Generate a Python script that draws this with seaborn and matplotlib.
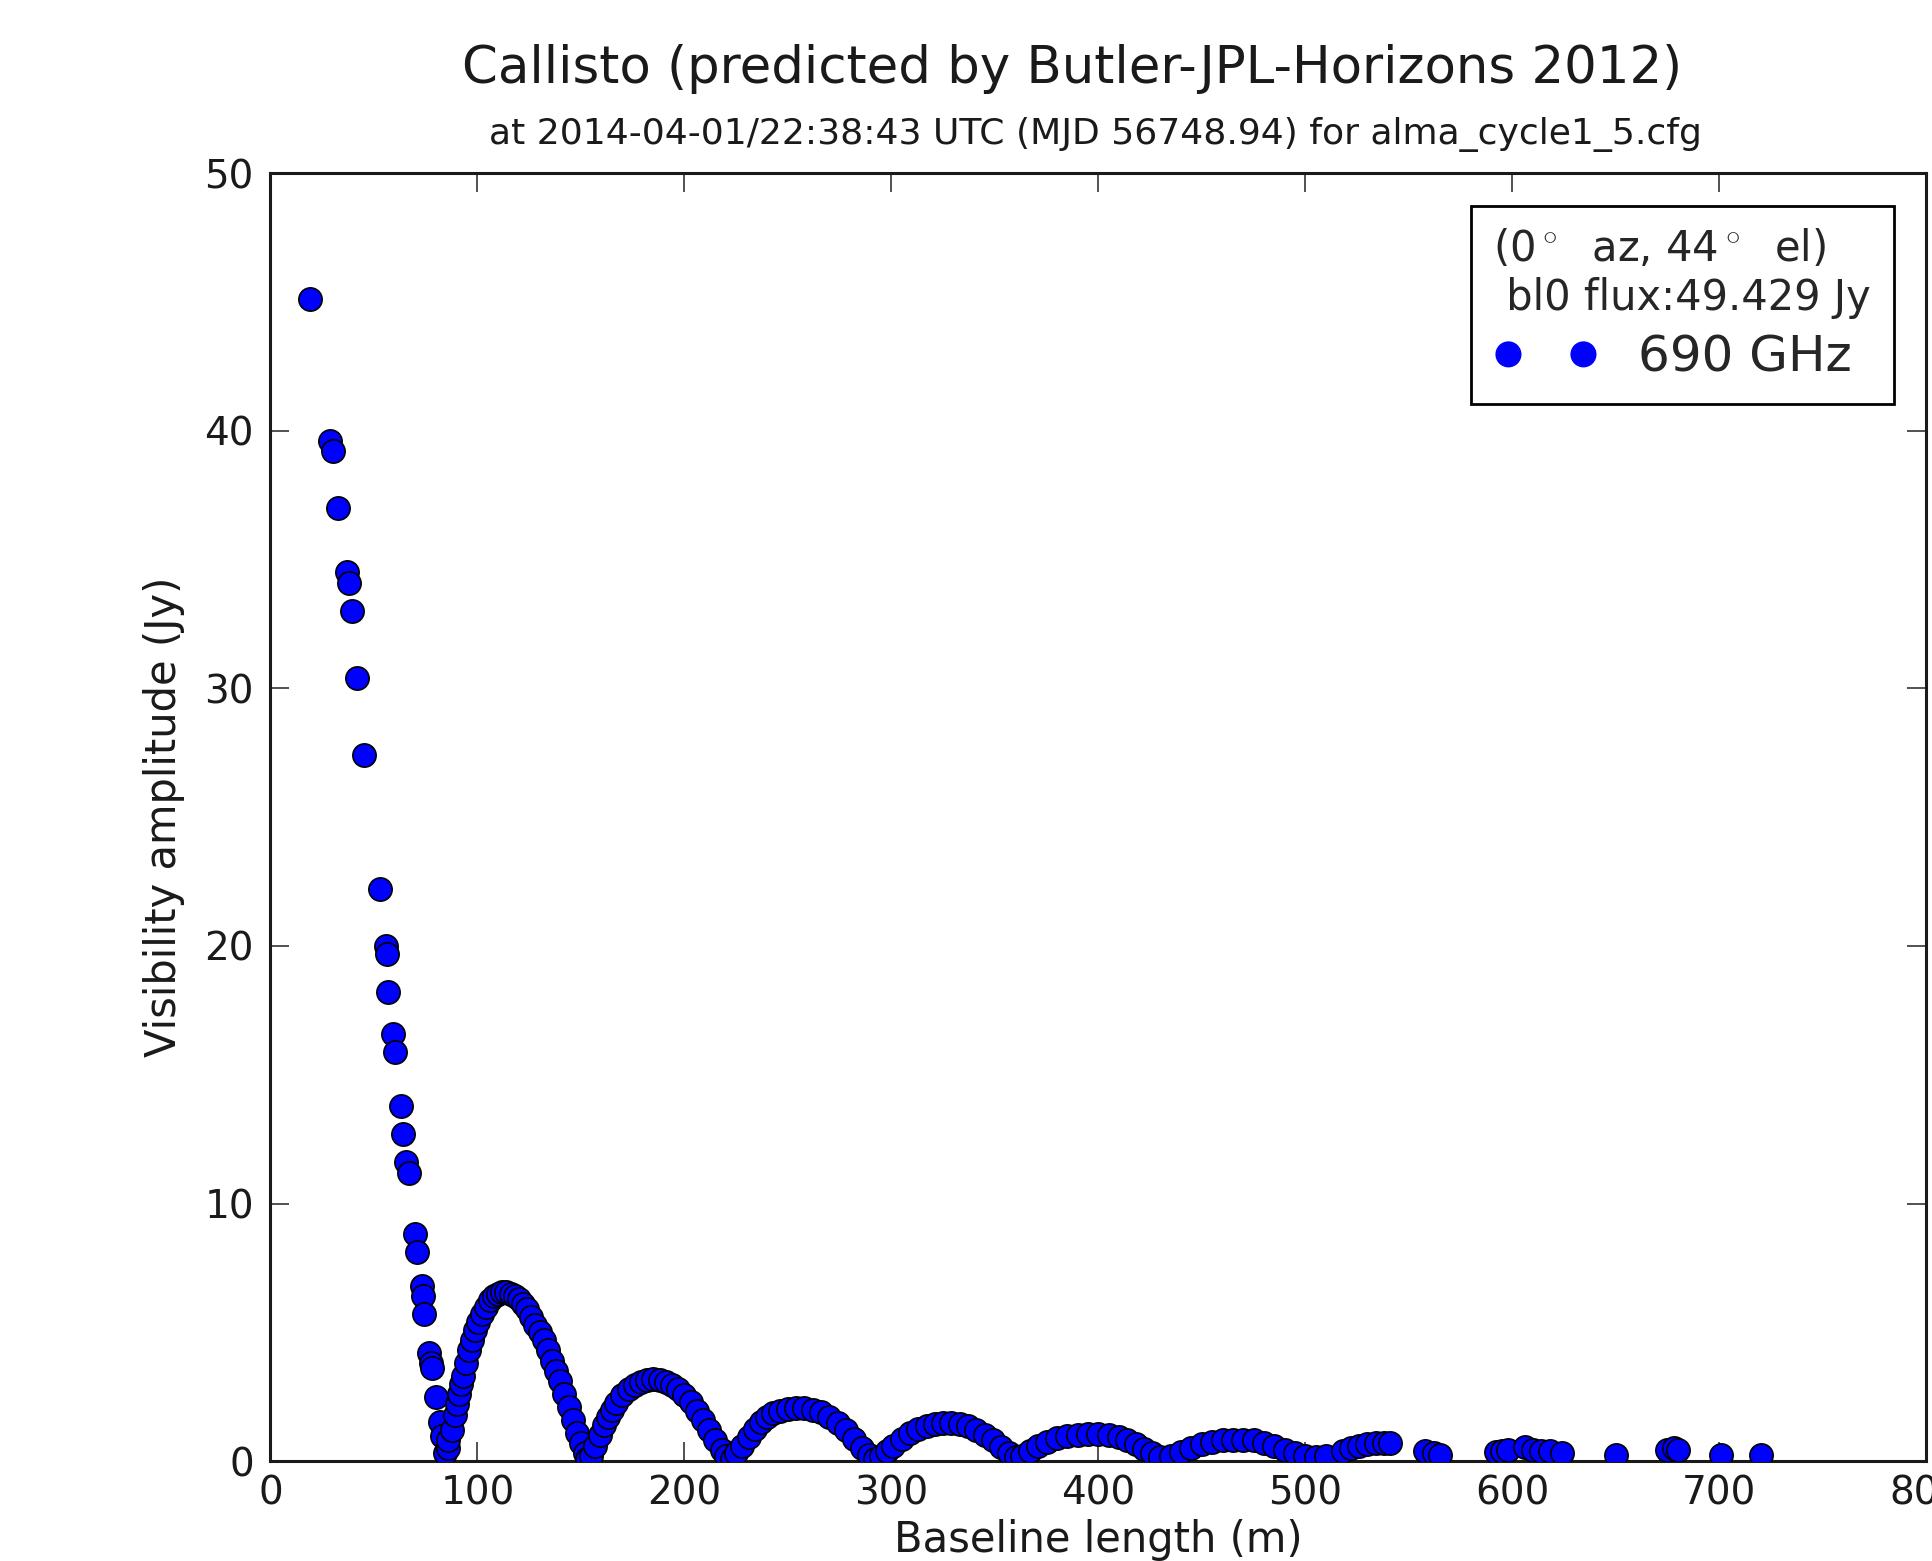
import matplotlib
matplotlib.use("Agg")
import matplotlib.pyplot as plt
import seaborn as sns
import pandas as pd

main_lobe_m = [19, 28.6, 30.4, 32.7, 36.9, 38.1, 39.3, 41.7, 45.2, 53, 56, 56.3, 57, 59, 60,
               63, 64, 65.5, 66.7, 69.6, 70.8, 73.2, 73.8, 74.4, 76.8, 77.4, 78, 79.8, 82,
               82.7, 84.5, 85.7]
main_lobe_jy = [45.1, 39.6, 39.2, 37.0, 34.5, 34.1, 33.0, 30.4, 27.4, 22.2, 20.0, 19.7, 18.2,
                16.6, 15.9, 13.8, 12.7, 11.6, 11.2, 8.8, 8.1, 6.8, 6.4, 5.7, 4.2, 3.8, 3.6,
                2.5, 1.5, 0.96, 0.3, 0.5]

lobe2_m = [86, 87.5, 89, 90, 91, 92, 93, 94.5, 96, 97.5, 99, 100.5, 102, 104, 106, 108, 110,
           112, 114, 116, 118, 120, 122, 124, 126, 128, 130, 132, 134, 136, 138, 140, 142,
           144, 146, 148, 150, 152, 153]
lobe2_jy = [0.8, 1.2, 1.8, 2.2, 2.6, 3.0, 3.3, 3.8, 4.3, 4.7, 5.1, 5.4, 5.7, 6.0, 6.25, 6.4,
            6.5, 6.55, 6.55, 6.5, 6.4, 6.3, 6.1, 5.9, 5.6, 5.3, 5.0, 4.7, 4.3, 3.9, 3.5, 3.1,
            2.6, 2.1, 1.6, 1.1, 0.7, 0.3, 0.1]

lobe3_m = [155, 157, 159, 161, 163, 165, 167, 170, 173, 176, 179, 182, 185, 188, 191, 194, 197,
           200, 203, 206, 209, 212, 215, 218, 220, 223]
lobe3_jy = [0.2, 0.6, 1.0, 1.4, 1.7, 2.0, 2.25, 2.55, 2.8, 2.95, 3.08, 3.15, 3.17, 3.15, 3.08,
            2.95, 2.78, 2.55, 2.28, 1.95, 1.6, 1.2, 0.8, 0.45, 0.2, 0.1]

lobe4_m = [225, 228, 231, 234, 237, 240, 243, 246, 250, 254, 258, 262, 266, 270, 274, 278, 282,
           286, 289, 292]
lobe4_jy = [0.3, 0.6, 0.95, 1.25, 1.5, 1.7, 1.85, 1.95, 2.03, 2.07, 2.06, 2.0, 1.9, 1.72, 1.48,
            1.2, 0.85, 0.5, 0.25, 0.1]

lobe5_m = [295, 298, 301, 305, 309, 313, 317, 321, 325, 329, 333, 337, 341, 345, 349, 353, 357, 360]
lobe5_jy = [0.2, 0.4, 0.6, 0.85, 1.1, 1.25, 1.37, 1.44, 1.48, 1.48, 1.44, 1.35, 1.22, 1.02, 0.8,
            0.55, 0.3, 0.15]

lobe6_m = [363, 367, 371, 375, 380, 385, 390, 395, 400, 405, 410, 414, 418, 422, 426, 430]
lobe6_jy = [0.2, 0.4, 0.6, 0.75, 0.88, 0.97, 1.02, 1.05, 1.05, 1.0, 0.92, 0.8, 0.65, 0.48, 0.3, 0.15]

outer_m = [435, 440, 445, 450, 455, 460, 465, 470, 475, 480, 485, 490, 495, 500, 505, 510, 518,
           522, 526, 530, 534, 538, 541, 558, 562, 565, 592, 595, 598, 606, 610, 614, 618, 624,
           650, 675, 678, 680, 701, 720]
outer_jy = [0.2, 0.35, 0.5, 0.65, 0.75, 0.8, 0.82, 0.82, 0.8, 0.7, 0.58, 0.45, 0.32, 0.2, 0.15,
            0.2, 0.4, 0.5, 0.6, 0.65, 0.7, 0.7, 0.7, 0.4, 0.3, 0.25, 0.35, 0.4, 0.45, 0.55, 0.45,
            0.4, 0.4, 0.3, 0.25, 0.45, 0.5, 0.45, 0.25, 0.25]

x_ticks = [0, 100, 200, 300, 400, 500, 600, 700, 800]
y_ticks = [0, 10, 20, 30, 40, 50]

title = "Callisto (predicted by Butler-JPL-Horizons 2012)"
subtitle = "at 2014-04-01/22:38:43 UTC (MJD 56748.94) for alma_cycle1_5.cfg"
legend_title = "(0$^\\circ$  az, 44$^\\circ$  el)\n bl0 flux:49.429 Jy"
series_label = "690 GHz"

df = pd.DataFrame({
    "baseline": main_lobe_m + lobe2_m + lobe3_m + lobe4_m + lobe5_m + lobe6_m + outer_m,
    "amplitude": main_lobe_jy + lobe2_jy + lobe3_jy + lobe4_jy + lobe5_jy + lobe6_jy + outer_jy,
})

sns.set_style("ticks")
plt.rcParams["font.family"] = ["DejaVu Sans"]
plt.rcParams["mathtext.fontset"] = "cm"
plt.rcParams["xtick.direction"] = "in"
plt.rcParams["ytick.direction"] = "in"
plt.rcParams["xtick.top"] = True
plt.rcParams["ytick.right"] = True

fig = plt.figure(figsize=(19.32, 15.61), dpi=100)
ax = fig.add_axes([0.140, 0.064, 0.857, 0.825])

sns.scatterplot(data=df, x="baseline", y="amplitude", ax=ax, color="#0000ff",
                edgecolor="black", linewidth=1.2, s=280, label=series_label, zorder=3)

ax.set_xlim(0, 800)
ax.set_ylim(0, 50)
ax.set_xticks(x_ticks)
ax.set_yticks(y_ticks)
ax.tick_params(axis="both", which="major", labelsize=28, length=14, width=1.2,
               color="#333333", labelcolor="#1a1a1a")
ax.tick_params(axis="x", pad=10)
ax.tick_params(axis="y", pad=12)
for sp in ax.spines.values():
    sp.set_linewidth(2.2)
    sp.set_color("#1a1a1a")

ax.set_xlabel("Baseline length (m)", fontsize=30, labelpad=4, color="#1a1a1a")
ax.set_ylabel("Visibility amplitude (Jy)", fontsize=30, labelpad=14, color="#1a1a1a")

fig.text(0.555, 0.956, title, ha="center", va="center", fontsize=37, color="#1a1a1a")
fig.text(0.567, 0.914, subtitle, ha="center", va="center", fontsize=26, color="#1a1a1a")

leg = ax.legend(loc="upper right", scatterpoints=2, scatteryoffsets=[0.5], title=legend_title,
                fontsize=36, title_fontsize=30, frameon=True, fancybox=False,
                borderaxespad=0.65, markerscale=1.05, handlelength=2.1, handletextpad=0.8,
                borderpad=0.45, labelspacing=0.3)
leg._legend_box.align = "left"
leg.get_frame().set_edgecolor("black")
leg.get_frame().set_linewidth(2)
leg.get_frame().set_alpha(1)
for h in leg.legend_handles:
    h.set_edgecolor("#0000ff")

fig.savefig("out.png", dpi=100, facecolor="white")
